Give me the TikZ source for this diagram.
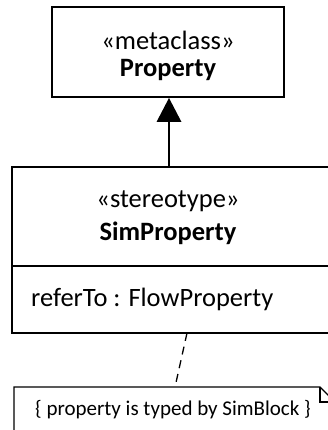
\documentclass[tikz,border=0pt]{standalone}
\usepackage{fontspec}
\setmainfont{Carlito}
\begin{document}
\begin{tikzpicture}[x=1pt,y=-1pt,
  umlbox/.style={draw,line width=2pt},
  notebox/.style={draw,line width=1.2pt},
  lbl/.style={inner sep=0pt,font=\fontsize{26.5}{30}\selectfont},
  bold/.style={inner sep=0pt,font=\fontsize{26.5}{30}\selectfont\bfseries},
  notelbl/.style={inner sep=0pt,font=\fontsize{21}{25}\selectfont}]
\useasboundingbox (0,0) rectangle (327,430);
% metaclass
\draw[umlbox] (52,7) rectangle (284,97);
\node[lbl] (mtag) at (168,40) {«metaclass»};
\node[bold] (mname) at (168,70) {Property};
\coordinate (meta) at (169,98);
% stereotype
\draw[umlbox] (12,167) rectangle (340,333);
\draw[umlbox] (12,266) -- (340,266);
\node[lbl] (stag) at (168,201) {«stereotype»};
\node[bold] (sname) at (168,233) {SimProperty};
\node[lbl,anchor=west] (attr) at (31,299) {referTo : FlowProperty};
\coordinate (ster) at (169,167);
% generalization
\draw[line width=2pt] (ster) -- (169,121);
\fill (meta) -- (156.5,122) -- (181.5,122) -- cycle;
% note
\draw[notebox] (14,440) -- (14,387) -- (320,387) -- (335,402);
\draw[notebox] (320,387) -- (320,402) -- (335,402);
\node[notelbl] (note) at (173,410) {\{ property is typed by SimBlock \}};
\coordinate (nt) at (175,387);
\coordinate (sb) at (187,333);
\draw[line width=1.3pt,dash pattern=on 8pt off 6pt] (sb) -- (nt);
\end{tikzpicture}
\end{document}
